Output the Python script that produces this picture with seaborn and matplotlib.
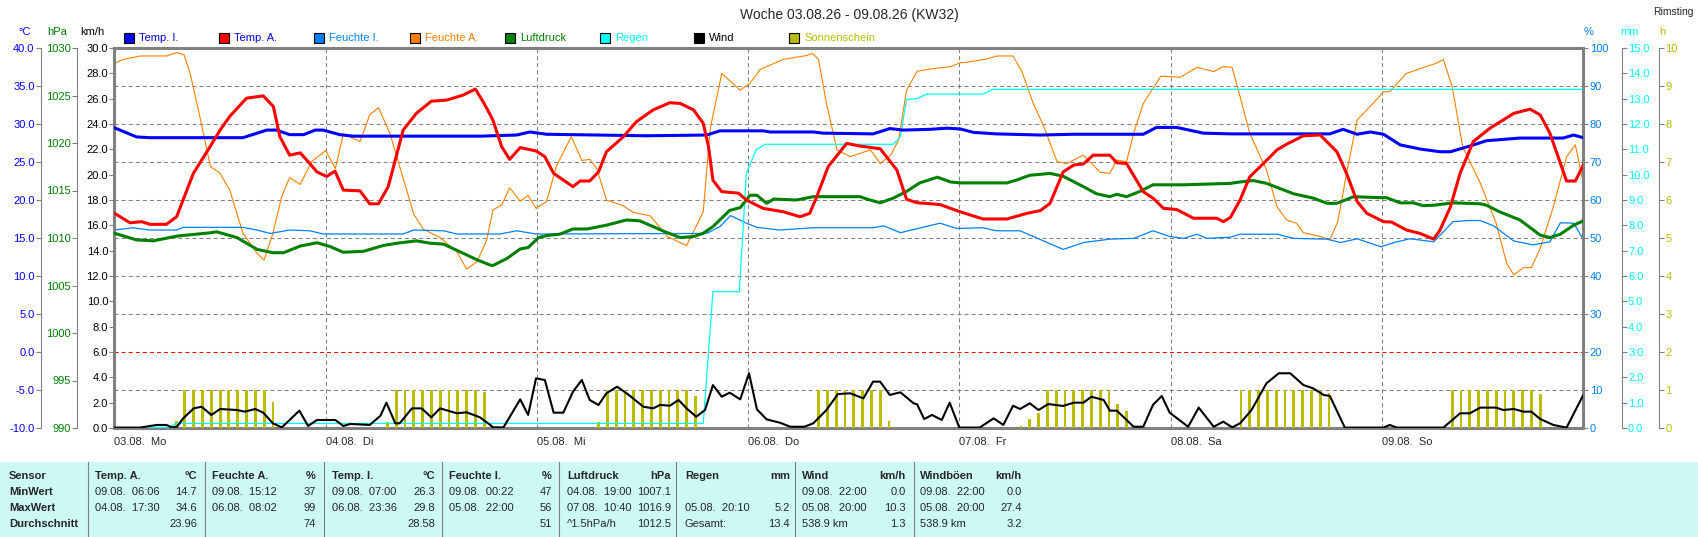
import pandas as pd
import seaborn as sns
import matplotlib.pyplot as plt
from matplotlib.patches import Rectangle
from matplotlib.lines import Line2D
from matplotlib.ticker import FormatStrFormatter
import matplotlib.transforms as mtrans

# ---- data (hour since 03.08. 00:00, value) ----
temp_i = [(0, 29.5), (2.5, 28.3), (4, 28.2), (14.6, 28.2), (17.3, 29.2), (18.4, 29.2), (19.9, 28.6),
          (21.5, 28.6), (22.8, 29.2), (23.7, 29.2), (25.6, 28.6), (27.1, 28.4), (41.5, 28.4), (45.7, 28.55),
          (47.2, 28.95), (49.1, 28.65), (60.5, 28.45), (67.3, 28.55), (68.8, 29.1), (73.7, 29.1), (74.5, 28.95),
          (79.4, 28.95), (80.5, 28.8), (86.2, 28.7), (88.1, 29.4), (89.6, 29.2), (92.7, 29.3), (94.6, 29.45),
          (96.1, 29.35), (97.6, 28.9), (100.2, 28.7), (105.2, 28.55), (109.0, 28.65), (116.9, 28.65),
          (118.4, 29.55), (120.7, 29.55), (123.7, 28.8), (126.8, 28.7), (138.1, 28.7), (139.6, 29.3),
          (141.2, 28.65), (142.7, 28.95), (144.2, 28.65), (146.1, 27.25), (148.4, 26.7), (150.6, 26.35),
          (151.8, 26.35), (154.0, 27.1), (155.9, 27.8), (159.7, 28.15), (164.6, 28.15), (165.8, 28.55),
          (166.9, 28.2)]

temp_a = [(0, 18.25), (1.76, 17.0), (3.1, 17.15), (4.0, 16.8), (5.9, 16.8), (7.06, 17.8), (8.96, 23.5),
          (10.85, 27.0), (12.0, 29.2), (13.1, 31.0), (15.0, 33.4), (16.9, 33.7), (18.05, 32.3), (18.8, 28.3),
          (19.9, 25.9), (21.1, 26.2), (22.2, 24.8), (23.0, 23.7), (24.1, 23.1), (25.06, 23.8), (26.0, 21.3),
          (27.9, 21.2), (29.0, 19.5), (30.0, 19.5), (31.1, 21.75), (32.8, 29.2), (34.3, 31.4), (36.0, 33.0),
          (37.75, 33.15), (39.6, 33.8), (41.0, 34.6), (41.9, 32.9), (42.7, 31.2), (43.0, 30.5), (44.0, 27.0),
          (44.9, 25.35), (46.1, 26.9), (47.9, 26.45), (48.9, 25.7), (49.9, 23.5), (52.1, 21.75), (52.9, 22.5),
          (54.0, 22.5), (55.0, 23.7), (55.9, 26.35), (57.8, 28.3), (59.3, 30.3), (61.2, 31.85), (63.1, 32.8),
          (64.3, 32.7), (65.8, 31.85), (66.9, 30.1), (67.5, 27.0), (68.0, 22.6), (69.0, 21.1), (70.9, 20.9),
          (71.8, 20.0), (73.7, 18.9), (76.0, 18.45), (77.9, 17.8), (79.0, 18.25), (79.8, 20.45), (81.1, 24.4),
          (83.2, 27.45), (84.7, 27.1), (87.0, 26.75), (88.9, 23.95), (90.0, 20.1), (91.15, 19.65),
          (93.8, 19.4), (96.1, 18.45), (98.7, 17.5), (101.4, 17.5), (103.7, 18.25), (105.2, 18.6),
          (106.3, 19.55), (107.8, 23.7), (109.0, 24.6), (110.1, 24.75), (111.2, 25.9), (113.1, 25.9),
          (113.9, 24.9), (115.0, 24.8), (116.9, 21.1), (118.05, 20.2), (119.2, 18.9), (120.7, 18.75),
          (122.6, 17.6), (125.25, 17.6), (126.0, 17.15), (126.8, 17.7), (127.9, 20.0), (129.0, 23.05),
          (130.55, 24.8), (132.1, 26.6), (133.2, 27.35), (135.1, 28.45), (137.0, 28.55), (138.9, 26.35),
          (140.0, 23.5), (141.2, 19.8), (142.3, 18.25), (144.2, 17.15), (145.1, 17.1), (146.8, 16.05),
          (148.35, 15.6), (149.9, 14.85), (150.6, 16.0), (151.8, 19.1), (152.9, 23.5), (154.4, 27.7),
          (156.3, 29.45), (159.0, 31.4), (160.85, 31.95), (162.0, 31.2), (163.1, 28.8), (165.0, 22.5),
          (166.0, 22.5), (166.9, 24.6)]

feuchte_i = [(0, 52.1), (2.1, 52.7), (4.0, 52.1), (7.06, 52.1), (7.8, 52.8), (14.6, 52.8), (16.2, 52.1),
             (17.7, 51.2), (19.9, 52.1), (22.2, 51.9), (23.7, 51.05), (32.8, 51.05), (34.0, 52.1), (37.4, 51.9),
             (38.9, 51.05), (43.8, 51.05), (45.7, 51.9), (47.9, 51.05), (67.3, 51.2), (68.8, 53.0), (70.0, 55.9),
             (71.8, 53.9), (73.0, 52.8), (75.6, 52.1), (79.4, 52.7), (86.2, 52.7), (87.4, 53.2), (89.3, 51.4),
             (93.8, 53.9), (95.7, 52.5), (98.7, 52.7), (100.2, 51.9), (102.9, 51.9), (105.2, 49.6), (107.8, 47.0),
             (110.1, 48.8), (113.1, 49.7), (115.8, 49.9), (118.0, 51.9), (119.9, 50.4), (121.5, 49.9),
             (123.0, 51.0), (124.1, 49.9), (126.8, 50.2), (127.9, 51.0), (132.1, 51.0), (134.0, 49.9),
             (137.8, 49.7), (139.3, 48.8), (141.2, 49.8), (143.9, 47.7), (145.4, 48.8), (147.2, 49.8),
             (149.9, 49.0), (152.1, 54.3), (154.0, 54.6), (155.2, 54.6), (156.7, 53.2), (159.0, 49.2),
             (161.2, 48.2), (163.1, 49.0), (164.3, 54.0), (165.8, 53.9), (166.9, 49.6)]

feuchte_a = [(0, 96.0), (1.0, 97.0), (2.9, 97.9), (5.9, 97.9), (7.1, 98.8), (7.9, 98.2), (8.6, 93.3),
             (9.7, 81.9), (10.9, 68.8), (12.0, 67.0), (13.1, 62.6), (14.6, 51.2), (16.2, 46.0), (17.0, 44.2),
             (18.0, 51.2), (19.0, 60.9), (19.9, 65.9), (21.1, 64.1), (22.4, 70.1), (24.0, 73.0), (25.1, 68.3),
             (26.0, 77.4), (27.9, 75.4), (29.0, 82.4), (30.0, 84.3), (31.3, 77.5), (34.0, 56.3), (35.1, 52.3),
             (37.0, 50.1), (38.9, 46.4), (40.0, 41.8), (41.2, 43.8), (42.3, 49.5), (43.0, 57.4), (44.0, 58.7),
             (44.9, 63.2), (46.1, 59.7), (47.0, 61.2), (47.9, 57.8), (49.1, 59.6), (50.2, 68.8), (51.9, 76.7),
             (53.1, 70.4), (54.0, 70.7), (54.8, 68.3), (55.9, 60.0), (57.8, 58.5), (58.9, 56.8), (60.9, 55.8),
             (62.8, 50.4), (65.0, 48.0), (66.9, 56.9), (67.7, 78.9), (69.0, 93.3), (71.1, 88.9), (72.2, 90.7),
             (73.4, 94.4), (76.0, 97.0), (78.6, 98.0), (79.3, 98.6), (80.0, 97.0), (80.9, 85.4), (82.1, 73.2),
             (83.6, 71.4), (85.9, 73.2), (87.0, 69.6), (88.2, 71.8), (89.1, 75.8), (90.0, 88.9), (91.2, 93.9),
             (93.1, 94.6), (95.0, 95.1), (96.1, 96.1), (97.3, 96.4), (99.1, 97.1), (100.3, 97.9), (102.1, 97.9),
             (103.1, 93.8), (104.4, 85.4), (105.6, 79.3), (107.1, 70.1), (108.2, 69.6), (110.1, 71.8),
             (112.0, 67.3), (113.1, 67.0), (113.9, 70.5), (115.0, 70.1), (115.8, 77.5), (116.9, 85.4),
             (118.9, 92.6), (121.1, 92.3), (123.0, 94.9), (124.9, 93.8), (126.0, 95.1), (127.0, 94.9),
             (127.9, 87.2), (129.0, 77.5), (130.9, 67.9), (132.1, 58.2), (133.2, 54.7), (134.3, 53.9),
             (135.1, 51.4), (137.0, 50.4), (138.1, 49.5), (139.0, 54.3), (140.0, 67.0), (141.2, 81.1),
             (143.0, 85.4), (144.2, 88.5), (144.9, 88.5), (146.8, 93.3), (148.4, 94.6), (150.2, 96.0),
             (151.0, 97.0), (152.0, 89.8), (153.2, 74.0), (155.2, 64.4), (157.0, 53.9), (158.2, 43.3),
             (159.0, 40.3), (160.1, 42.2), (161.0, 42.2), (162.0, 47.3), (163.5, 58.2), (165.0, 71.4),
             (166.0, 74.5), (166.9, 64.4)]

luftdruck = [(0, 1010.5), (2.5, 1009.8), (4.4, 1009.7), (7.1, 1010.2), (10.9, 1010.55), (11.6, 1010.65),
             (13.9, 1010.05), (16.2, 1008.8), (18.0, 1008.45), (19.2, 1008.45), (21.1, 1009.15), (23.0, 1009.5),
             (24.5, 1009.1), (26.0, 1008.5), (28.3, 1008.6), (30.5, 1009.2), (32.1, 1009.45), (34.3, 1009.7),
             (35.9, 1009.45), (37.4, 1009.35), (39.6, 1008.4), (41.2, 1007.7), (42.7, 1007.15), (43.0, 1007.1),
             (44.6, 1007.85), (46.1, 1008.85), (47.0, 1009.0), (48.2, 1010.05), (49.1, 1010.25), (50.6, 1010.4),
             (52.1, 1010.95), (53.7, 1010.95), (55.9, 1011.35), (58.2, 1011.9), (59.7, 1011.8), (61.2, 1011.2),
             (62.7, 1010.6), (64.3, 1010.05), (65.8, 1010.15), (66.9, 1010.5), (68.0, 1011.2), (69.9, 1012.9),
             (71.1, 1013.2), (71.8, 1014.0), (72.2, 1014.5), (73.0, 1014.5), (74.1, 1013.65), (74.9, 1014.1),
             (77.5, 1014.0), (79.4, 1014.35), (84.7, 1014.35), (85.5, 1014.1), (87.0, 1013.7), (88.5, 1014.2),
             (90.0, 1014.9), (91.5, 1015.8), (93.5, 1016.4), (95.0, 1015.9), (96.1, 1015.8), (101.4, 1015.8),
             (102.5, 1016.1), (104.0, 1016.6), (106.3, 1016.8), (107.8, 1016.5), (110.1, 1015.4),
             (111.6, 1014.65), (113.1, 1014.35), (113.9, 1014.6), (115.0, 1014.35), (116.5, 1014.9),
             (118.0, 1015.6), (121.5, 1015.6), (126.8, 1015.75), (127.9, 1015.9), (129.4, 1016.05),
             (130.9, 1015.75), (134.0, 1014.65), (136.2, 1014.2), (137.8, 1013.65), (138.9, 1013.65),
             (140.8, 1014.35), (143.5, 1014.25), (144.5, 1014.25), (146.1, 1013.7), (147.6, 1013.7),
             (148.7, 1013.4), (149.9, 1013.45), (152.1, 1013.7), (155.2, 1013.6), (155.9, 1013.45),
             (157.4, 1012.75), (159.7, 1011.9), (162.0, 1010.3), (163.1, 1010.05), (164.3, 1010.4),
             (165.8, 1011.35), (166.9, 1011.8)]

regen = [(0, 0.0), (6.1, 0.03), (7.06, 0.18), (66.9, 0.18), (68.0, 5.38), (71.0, 5.38), (71.8, 10.05),
         (72.9, 10.97), (73.9, 11.2), (88.5, 11.2), (89.3, 11.5), (90.0, 12.97), (91.2, 13.0), (92.3, 13.18),
         (98.7, 13.18), (99.8, 13.37), (166.9, 13.37)]

wind = [(0, 0.03), (2.9, 0.03), (4.8, 0.24), (5.9, 0.24), (6.5, 0.05), (7.1, 0.1), (7.8, 0.76), (9.0, 1.55),
        (9.9, 1.68), (11.0, 1.03), (12.0, 1.5), (13.9, 1.42), (14.8, 1.29), (16.0, 1.5), (16.9, 1.21),
        (18.0, 0.37), (19.0, 0.05), (19.9, 0.63), (21.0, 1.37), (22.0, 0.16), (23.0, 0.63), (25.1, 0.63),
        (26.0, 0.16), (26.8, 0.32), (29.0, 0.24), (30.2, 0.95), (30.9, 2.0), (31.9, 0.37), (32.4, 0.37),
        (33.8, 1.55), (34.9, 1.55), (36.0, 0.84), (37.0, 1.55), (38.9, 1.16), (40.0, 1.24), (41.5, 0.85),
        (42.7, 0.24), (43.0, 0.05), (44.2, 0.05), (46.1, 2.26), (47.0, 1.03), (47.9, 3.92), (48.9, 3.79),
        (49.9, 1.21), (51.0, 1.21), (52.1, 2.87), (53.1, 3.79), (54.0, 2.21), (55.0, 1.82), (55.9, 2.74),
        (57.1, 3.26), (58.2, 2.74), (60.1, 1.68), (61.2, 1.55), (62.0, 1.82), (63.1, 1.76), (64.1, 2.21),
        (65.0, 1.55), (66.1, 0.89), (67.1, 1.42), (68.0, 3.39), (69.0, 2.47), (69.9, 2.79), (71.1, 2.26),
        (72.1, 4.32), (73.0, 1.47), (74.1, 0.68), (75.6, 0.42), (76.8, 0.1), (78.4, 0.1), (79.4, 0.37),
        (80.9, 1.42), (82.2, 2.68), (83.6, 2.74), (85.1, 2.34), (86.2, 3.66), (87.0, 3.66), (88.1, 2.61),
        (89.3, 2.82), (90.8, 1.95), (91.2, 1.87), (92.0, 0.71), (92.9, 1.03), (94.0, 0.63), (94.9, 2.0),
        (96.0, 0.03), (98.3, 0.03), (99.9, 0.76), (101.0, 0.24), (102.1, 1.76), (102.9, 1.5), (104.0, 1.95),
        (105.0, 1.42), (106.1, 1.89), (107.8, 1.74), (109.0, 2.0), (110.1, 2.0), (111.0, 2.47), (112.4, 2.21),
        (113.1, 1.37), (113.9, 1.37), (115.8, 0.1), (116.9, 0.1), (118.0, 1.82), (119.0, 2.53), (119.9, 1.21),
        (122.0, 0.1), (123.2, 1.61), (124.9, 0.1), (126.0, 0.5), (127.0, 0.05), (127.9, 0.37), (129.2, 1.42),
        (130.9, 3.53), (132.3, 4.32), (133.6, 4.32), (135.1, 3.39), (136.2, 3.13), (137.4, 2.61),
        (138.1, 2.53), (139.8, 0.03), (144.2, 0.03), (144.9, 0.24), (145.7, 0.03), (151.0, 0.03),
        (152.9, 1.16), (154.0, 1.16), (155.2, 1.61), (157.0, 1.61), (157.8, 1.42), (159.0, 1.5),
        (160.1, 1.29), (161.0, 1.29), (162.0, 0.71), (163.5, 0.24), (165.0, 0.03), (166.9, 2.61)]

sun_hours = [7, 8, 9, 10, 11, 12, 13, 14, 15, 16, 17, 18,
             31, 32, 33, 34, 35, 36, 37, 38, 39, 40, 41, 42,
             55, 56, 57, 58, 59, 60, 61, 62, 63, 64, 65, 66,
             80, 81, 82, 83, 84, 85, 86, 87, 88,
             103, 104, 105, 106, 107, 108, 109, 110, 111, 112, 113, 114, 115,
             128, 129, 130, 131, 132, 133, 134, 135, 136, 137, 138,
             152, 153, 154, 155, 156, 157, 158, 159, 160, 161, 162]
sun_values = [0.18, 1, 1, 1, 1, 1, 1, 1, 1, 1, 1, 0.68,
              0.15, 1, 1, 1, 1, 1, 1, 1, 1, 1, 1, 0.94,
              0.15, 1, 1, 1, 1, 1, 1, 1, 1, 1, 1, 0.84,
              1, 1, 1, 1, 1, 1, 1, 1, 0.18,
              0.04, 0.25, 0.39, 1, 1, 1, 1, 1, 1, 1, 1, 0.62, 0.45,
              1, 1, 1, 1, 1, 1, 1, 1, 1, 1, 0.93,
              1, 1, 1, 1, 1, 1, 1, 1, 1, 1, 0.89]

day_labels = ['03.08.  Mo', '04.08.  Di', '05.08.  Mi', '06.08.  Do', '07.08.  Fr', '08.08.  Sa', '09.08.  So']

legend_names = ['Temp. I.', 'Temp. A.', 'Feuchte I.', 'Feuchte A.', 'Luftdruck', 'Regen', 'Wind', 'Sonnenschein']

# table
row_labels = ['Sensor', 'MinWert', 'MaxWert', 'Durchschnitt']
col_heads = ['Temp. A.', 'Feuchte A.', 'Temp. I.', 'Feuchte I.', 'Luftdruck', 'Regen', 'Wind', 'Windböen']
col_units = ['°C', '%', '°C', '%', 'hPa', 'mm', 'km/h', 'km/h']
min_when = ['09.08.  06:06', '09.08.  15:12', '09.08.  07:00', '09.08.  00:22', '04.08.  19:00', '',
            '09.08.  22:00', '09.08.  22:00']
min_vals = ['14.7', '37', '26.3', '47', '1007.1', '', '0.0', '0.0']
max_when = ['04.08.  17:30', '06.08.  08:02', '06.08.  23:36', '05.08.  22:00', '07.08.  10:40',
            '05.08.  20:10', '05.08.  20:00', '05.08.  20:00']
max_vals = ['34.6', '99', '29.8', '56', '1016.9', '5.2', '10.3', '27.4']
avg_note = ['', '', '', '', '^1.5hPa/h', 'Gesamt:', '538.9 km', '538.9 km']
avg_vals = ['23.96', '74', '28.58', '51', '1012.5', '13.4', '1.3', '3.2']

# ---- style ----
sns.set_style('white')
plt.rcParams['font.family'] = ['Liberation Sans', 'DejaVu Sans']
plt.rcParams['font.size'] = 8
plt.rcParams['lines.scale_dashes'] = False

W, H = 1699, 537
GRAY = '#808080'
fig = plt.figure(figsize=(W / 100, H / 100), dpi=100)


def fx(px):
    return px / W


def fy(py):
    return 1 - py / H


X0, X1, Y0, Y1 = 114.5, 1583.3, 48, 428
ax = fig.add_axes([fx(X0), fy(Y1), fx(X1 - X0), (Y1 - Y0) / H])


def make_twin(side, pos, lim, step, fmt, color):
    t = ax.twinx()
    for s in t.spines.values():
        s.set_visible(False)
    if side == 'left':
        t.yaxis.tick_left()
    else:
        t.yaxis.tick_right()
    if pos is not None:
        t.spines[side].set_visible(True)
        t.spines[side].set_position(('axes', pos))
        t.spines[side].set_color(GRAY)
        t.spines[side].set_linewidth(0.8)
    t.set_ylim(*lim)
    t.set_yticks([lim[0] + i * step for i in range(int(round((lim[1] - lim[0]) / step)) + 1)])
    t.yaxis.set_major_formatter(FormatStrFormatter(fmt))
    t.tick_params(axis='y', length=3.6, width=0.8, color=GRAY, labelcolor=color, pad=1, labelsize=8)
    return t


ax_sun = make_twin('right', 1.05154, (0, 10), 1, '%d', '#BBBB00')
ax_mm = make_twin('right', 1.02614, (0, 15), 1, '%.1f', '#00FFFF')
ax_p = make_twin('left', -0.02553, (990, 1030), 5, '%d', '#008000')
ax_c = make_twin('left', -0.05004, (-10, 40), 5, '%.1f', '#0000FF')
ax_k = make_twin('left', None, (0, 30), 2, '%.1f', 'black')


def df(pairs):
    return pd.DataFrame(pairs, columns=['hour', 'value'])


# humidity on base (% axis)
sns.lineplot(data=df(feuchte_a), x='hour', y='value', ax=ax, color='#FF8000', linewidth=0.8)
sns.lineplot(data=df(feuchte_i), x='hour', y='value', ax=ax, color='#0080FF', linewidth=0.9)
ax_sun.bar(sun_hours, sun_values, width=0.32, color='#BBBB00', linewidth=0)
sns.lineplot(data=df(regen), x='hour', y='value', ax=ax_mm, color='#00FFFF', linewidth=0.9)
sns.lineplot(data=df(luftdruck), x='hour', y='value', ax=ax_p, color='#008000', linewidth=2.2)
sns.lineplot(data=df(temp_i), x='hour', y='value', ax=ax_c, color='#0000FF', linewidth=2.2)
sns.lineplot(data=df(temp_a), x='hour', y='value', ax=ax_c, color='#FF0000', linewidth=2.2)
sns.lineplot(data=df(wind), x='hour', y='value', ax=ax_k, color='black', linewidth=1.5)

for a in [ax, ax_sun, ax_mm, ax_p, ax_c, ax_k]:
    a.set_xlabel('')
    a.set_ylabel('')

# base axis: % on right, grid, border
ax.set_xlim(0, 166.9)
ax.set_ylim(0, 100)
ax.yaxis.tick_right()
ax.set_yticks(range(0, 101, 10))
ax.tick_params(axis='y', length=3.6, width=0.8, color=GRAY, labelcolor='#0080FF', pad=1, labelsize=8)
ax.set_xticks([24 * i for i in range(len(day_labels))])
ax.set_xticklabels(day_labels, ha='left')
shift = mtrans.ScaledTranslation(-15 / 100, 0, fig.dpi_scale_trans)
for lab in ax.get_xticklabels():
    lab.set_transform(lab.get_transform() + shift)
ax.tick_params(axis='x', length=3, width=0.8, color=GRAY, pad=3.5, labelsize=8)
ax.grid(True, color=GRAY, linestyle=(0, (2.9, 2.2)), linewidth=0.75)
ax.yaxis.get_gridlines()[2].set_color('#FF0000')
for s in ax.spines.values():
    s.set_color(GRAY)
    s.set_linewidth(2.2)

# unit labels above axes
for txt, xp, col in [('°C', 25, '#0000FF'), ('hPa', 57, '#008000'), ('km/h', 92, 'black'),
                     ('%', 1589, '#0080FF'), ('mm', 1630, '#00FFFF'), ('h', 1662, '#BBBB00')]:
    fig.text(fx(xp), fy(32), txt, color=col, fontsize=8, ha='center', va='center')

# legend row
legend_fill = ['#0000FF', '#FF0000', '#0080FF', '#FF8000', '#008000', '#00FFFF', '#000000', '#BBBB00']
legend_text = ['#0000E0', '#0000E0', '#0080FF', '#FF8000', '#008000', '#00FFFF', '#000000', '#BBBB00']
legend_x = [124, 219, 314, 410, 505, 600, 694, 789]
for name, bx, fc, tc in zip(legend_names, legend_x, legend_fill, legend_text):
    fig.patches.append(Rectangle((fx(bx), fy(43)), 10 / W, 10 / H, transform=fig.transFigure,
                                 facecolor=fc, edgecolor='black', linewidth=0.8))
    fig.text(fx(bx + 15), fy(38), name, color=tc, fontsize=8, ha='left', va='center')

fig.text(0.5, fy(15), 'Woche 03.08.26 - 09.08.26 (KW32)', fontsize=10, ha='center', va='center')
fig.text(fx(1673), fy(12), 'Rimsting', fontsize=7.5, ha='center', va='center')

# ---- statistics table ----
fig.patches.append(Rectangle((0, 0), 1, fy(462), transform=fig.transFigure,
                             facecolor='#CCF8F5', edgecolor='none', zorder=0))
for sx in [88, 205, 324, 442, 559, 676, 795, 914]:
    fig.add_artist(Line2D([fx(sx), fx(sx)], [fy(462), 0], color=GRAY, linewidth=0.8))

row_y = [476, 492, 508, 524]
for lab, yy in zip(row_labels, row_y):
    fig.text(fx(9), fy(yy), lab, fontsize=8, fontweight='bold', ha='left', va='center')

col_left = [95, 212, 332, 449, 567, 685, 802, 920]
col_right = [197, 316, 435, 552, 671, 790, 906, 1022]
for i in range(len(col_heads)):
    xl, xr = fx(col_left[i]), fx(col_right[i])
    fig.text(xl, fy(row_y[0]), col_heads[i], fontsize=8, fontweight='bold', ha='left', va='center')
    fig.text(xr, fy(row_y[0]), col_units[i], fontsize=8, fontweight='bold', ha='right', va='center')
    for yy, left, right in [(row_y[1], min_when[i], min_vals[i]),
                            (row_y[2], max_when[i], max_vals[i]),
                            (row_y[3], avg_note[i], avg_vals[i])]:
        fig.text(xl, fy(yy), left, fontsize=8, ha='left', va='center')
        fig.text(xr, fy(yy), right, fontsize=8, ha='right', va='center')

fig.savefig('out.png', dpi=100)
